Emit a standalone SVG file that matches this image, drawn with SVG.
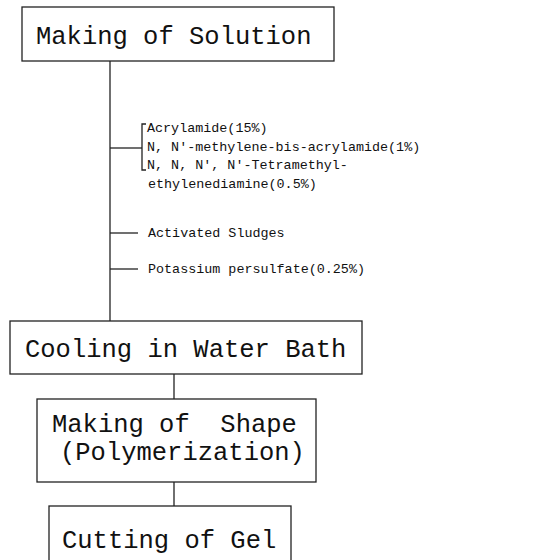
<svg xmlns="http://www.w3.org/2000/svg" width="539" height="560" viewBox="0 0 539 560">
<style>
.box{fill:#fff;stroke:#222;stroke-width:1.3}
.ln{fill:none;stroke:#222;stroke-width:1.3}
.big{font-family:"Liberation Mono","DejaVu Sans Mono",monospace;font-size:25.5px;fill:#111;white-space:pre}
.sm{font-family:"Liberation Mono","DejaVu Sans Mono",monospace;font-size:13.4px;fill:#111;white-space:pre}
</style>
<rect width="539" height="560" fill="#fff"/>
<g id="connectors">
<line class="ln" x1="110" y1="61" x2="110" y2="321"/>
<line class="ln" x1="110" y1="148" x2="142" y2="148"/>
<path class="ln" d="M146 124 H142 V170 H146"/>
<line class="ln" x1="110" y1="233" x2="138" y2="233"/>
<line class="ln" x1="110" y1="269" x2="138" y2="269"/>
<line class="ln" x1="174" y1="374" x2="174" y2="399"/>
<line class="ln" x1="174" y1="482" x2="174" y2="506"/>
</g>
<g id="making-solution">
<rect class="box" x="22" y="7" width="312" height="54"/>
<text class="big" x="36" y="44">Making of Solution</text>
</g>
<g id="additives">
<text class="sm" x="147" y="132">Acrylamide(15%)</text>
<text class="sm" x="147" y="151">N, N'-methylene-bis-acrylamide(1%)</text>
<text class="sm" x="147" y="169">N, N, N', N'-Tetramethyl-</text>
<text class="sm" x="148" y="188">ethylenediamine(0.5%)</text>
</g>
<g id="sludges">
<text class="sm" x="148" y="237">Activated Sludges</text>
</g>
<g id="persulfate">
<text class="sm" x="148" y="273">Potassium persulfate(0.25%)</text>
</g>
<g id="cooling">
<rect class="box" x="10" y="321" width="352" height="53"/>
<text class="big" x="25" y="357">Cooling in Water Bath</text>
</g>
<g id="making-shape">
<rect class="box" x="37" y="399" width="279" height="83"/>
<text class="big" x="52" y="432">Making of  Shape</text>
<text class="big" x="60" y="460">(Polymerization)</text>
</g>
<g id="cutting">
<rect class="box" x="49" y="506" width="242" height="70"/>
<text class="big" x="62" y="548">Cutting of Gel</text>
</g>
</svg>
